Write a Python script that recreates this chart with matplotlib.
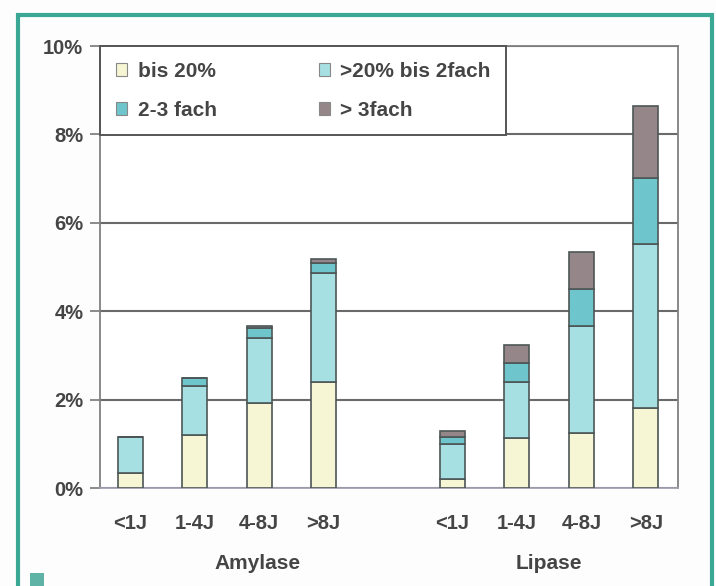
import matplotlib.pyplot as plt
import numpy as np
from matplotlib.patches import Rectangle

plt.rcParams['font.family'] = ['Liberation Sans', 'DejaVu Sans']

# age groups, two enzymes side by side with one empty slot between
groups = ['<1J', '1-4J', '4-8J', '>8J']
enzymes = ['Amylase', 'Lipase']
x_pos = [0, 1, 2, 3, 5, 6, 7, 8]

# segment heights in percent, Amylase first then Lipase
bis_20 = [0.35, 1.20, 1.92, 2.39, 0.20, 1.13, 1.24, 1.81]
bis_2fach = [0.81, 1.10, 1.47, 2.48, 0.79, 1.26, 2.42, 3.72]
fach_2_3 = [0.00, 0.18, 0.23, 0.22, 0.16, 0.43, 0.85, 1.49]
ueber_3fach = [0.00, 0.00, 0.05, 0.08, 0.14, 0.41, 0.82, 1.63]

labels = ['bis 20%', '>20% bis 2fach', '2-3 fach', '> 3fach']
colors = ['#f6f6d4', '#a6e0e2', '#6ec6cc', '#958789']

text_col = '#454545'

fig = plt.figure(figsize=(7.16, 5.86), dpi=100)
fig.patch.set_facecolor('#fdfdfd')
ax = fig.add_axes([100/716, 1 - 488/586, 578/716, 442/586])
ax.set_facecolor('white')

# teal outer frame and the small marker square at the bottom
fig.patches.append(Rectangle((18/716, -0.1), 694/716, 1.1 - 15/586,
                             transform=fig.transFigure, fill=False,
                             edgecolor='#3aa894', lw=3, zorder=0))
fig.patches.append(Rectangle((30/716, 0), 14/716, 13/586,
                             transform=fig.transFigure, facecolor='#5fb3a6',
                             edgecolor='none', zorder=0))

bars = []
bottom = np.zeros(len(x_pos))
for vals, lab, col in zip([bis_20, bis_2fach, fach_2_3, ueber_3fach], labels, colors):
    b = ax.bar(x_pos, vals, width=0.39, bottom=bottom, color=col, label=lab,
               edgecolor='#4d5656', linewidth=1.2, zorder=3)
    bars.append(b)
    bottom += np.array(vals)

ax.set_xlim(-0.47, 8.5)
ax.set_ylim(0, 10)
ax.set_yticks([0, 2, 4, 6, 8, 10])
ax.set_yticklabels([f'{v}%' for v in [0, 2, 4, 6, 8, 10]])
ax.yaxis.grid(True, color='#6a6a6a', lw=1.5, zorder=1)
ax.set_axisbelow(True)

ax.set_xticks(x_pos)
ax.set_xticklabels(groups * 2)
ax.tick_params(axis='x', length=0, pad=19, labelsize=14.5, labelcolor=text_col)
ax.tick_params(axis='y', length=7, width=1.2, color='#777777', pad=5,
               labelsize=14.5, labelcolor=text_col)
for lbl in ax.get_xticklabels() + ax.get_yticklabels():
    lbl.set_fontweight('bold')

for sp in ax.spines.values():
    sp.set_color('#808080')
    sp.set_linewidth(1.3)
ax.spines['bottom'].set_color('#a0a0b0')

# enzyme names below the age labels
for name, xc in zip(enzymes, [1.97, 6.49]):
    ax.text(xc, -0.17, name, transform=ax.get_xaxis_transform(), ha='center',
            va='center', fontsize=15, fontweight='bold', color=text_col)

# legend rows: bis 20% / >20% bis 2fach, then 2-3 fach / > 3fach
order = [0, 2, 1, 3]
leg = ax.legend([bars[i] for i in order], [labels[i] for i in order],
                loc='upper left', bbox_to_anchor=(0, 1), ncol=2,
                borderaxespad=0, fancybox=False, framealpha=1,
                edgecolor='#555555', fontsize=15, handlelength=0.55,
                handleheight=0.55, labelspacing=0.97, borderpad=0.75,
                handletextpad=0.5, columnspacing=4.9)
leg.get_frame().set_linewidth(1.4)
for t in leg.get_texts():
    t.set_fontweight('bold')
    t.set_color(text_col)
for h in leg.legend_handles:
    h.set_edgecolor('#888888')
    h.set_linewidth(0.8)

fig.savefig('out.png', dpi=100, facecolor=fig.get_facecolor())
